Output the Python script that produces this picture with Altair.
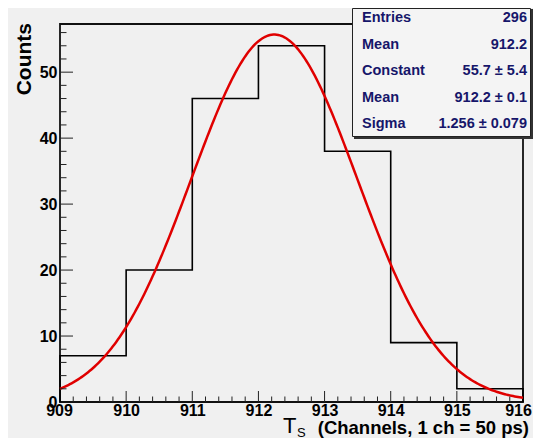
import altair as alt
import numpy as np
import pandas as pd

# ---- data ----
bin_edges = [909, 910, 911, 912, 913, 914, 915, 916]
counts = [7, 20, 46, 54, 38, 9, 2]
fit_constant = 55.7
fit_mean = 912.24
fit_sigma = 1.256
x_major = [909, 910, 911, 912, 913, 914, 915, 916]
y_major = [0, 10, 20, 30, 40, 50]
y_minor = [2, 4, 6, 8, 12, 14, 16, 18, 22, 24, 26, 28, 32, 34, 36, 38, 42, 44, 46, 48, 52, 54, 56]
stat_names = ["Entries", "Mean", "Constant", "Mean", "Sigma"]
stat_values = ["296", "912.2", "55.7 \u00b1 5.4", "912.2 \u00b1 0.1", "1.256 \u00b1 0.079"]

W, H = 463, 378
XDOM = [909, 916]
YDOM = [0, 57.3]
FONT = "Liberation Sans"
NAVY = "#16166a"

xs = alt.Scale(domain=XDOM, nice=False, zero=False)
ys = alt.Scale(domain=YDOM, nice=False, zero=False)
x_axis = alt.Axis(values=x_major, format="d", title=None, ticks=False, domain=False, grid=False,
                  labelFont=FONT, labelFontSize=16, labelFontWeight="bold", labelColor="black",
                  labelPadding=0, labelFlush=False,
                  labelOffset={"expr": "datum.value == 916 ? -5 : (datum.value == 909 ? -1 : 0)"})
y_axis = alt.Axis(values=y_major, format="d", title=None, ticks=False, domain=False, grid=False,
                  labelFont=FONT, labelFontSize=16, labelFontWeight="bold", labelColor="black",
                  labelPadding=3, labelFlush=False)

# histogram outline (steps)
hx = [bin_edges[0]] + bin_edges + [bin_edges[-1]]
hy = [0] + counts + [counts[-1], 0]
hist_df = pd.DataFrame({"x": hx, "y": hy, "i": range(len(hx))})

# fitted gaussian from the fit parameters
gx = np.linspace(XDOM[0], XDOM[1], 281)
gy = fit_constant * np.exp(-0.5 * ((gx - fit_mean) / fit_sigma) ** 2)
fit_df = pd.DataFrame({"x": gx, "y": gy})

x_minor = [round(909 + 0.2 * k, 1) for k in range(36) if k % 5 != 0]

hist = alt.Chart(hist_df).mark_line(interpolate="step-after", color="black", strokeWidth=1.6).encode(
    x=alt.X("x:Q", scale=xs, axis=x_axis),
    y=alt.Y("y:Q", scale=ys, axis=y_axis),
    order="i:Q",
)

fit = alt.Chart(fit_df).mark_line(color="#e00000", strokeWidth=2.5).encode(
    x=alt.X("x:Q", scale=xs, axis=x_axis), y=alt.Y("y:Q", scale=ys, axis=y_axis)
)

xmaj = alt.Chart(pd.DataFrame({"t": x_major[1:-1]})).mark_rule(color="#222", strokeWidth=1).encode(
    x=alt.X("t:Q", scale=xs, axis=x_axis), y=alt.value(H), y2=alt.value(H - 11))
xmin = alt.Chart(pd.DataFrame({"t": x_minor})).mark_rule(color="#222", strokeWidth=1).encode(
    x=alt.X("t:Q", scale=xs, axis=x_axis), y=alt.value(H), y2=alt.value(H - 5.5))
ymaj = alt.Chart(pd.DataFrame({"t": y_major[1:]})).mark_rule(color="#222", strokeWidth=1).encode(
    y=alt.Y("t:Q", scale=ys, axis=y_axis), x=alt.value(0), x2=alt.value(13))
ymin = alt.Chart(pd.DataFrame({"t": y_minor})).mark_rule(color="#222", strokeWidth=1).encode(
    y=alt.Y("t:Q", scale=ys, axis=y_axis), x=alt.value(0), x2=alt.value(6.5))

one = pd.DataFrame({"a": [0]})
shadow = alt.Chart(one).mark_rect(color="#333").encode(
    x=alt.value(294), x2=alt.value(473), y=alt.value(-15), y2=alt.value(115))
box = alt.Chart(one).mark_rect(fill="#f4f4f4", stroke="#222", strokeWidth=1).encode(
    x=alt.value(292.5), x2=alt.value(470.5), y=alt.value(-15.5), y2=alt.value(112.5))

stat_layers = []
for i, (nm, vl) in enumerate(zip(stat_names, stat_values)):
    yy = -6 + 26.5 * i
    stat_layers.append(alt.Chart(one).mark_text(text=nm, align="left", baseline="middle", font=FONT,
                                                fontSize=14.5, fontWeight="bold", color=NAVY).encode(
        x=alt.value(302), y=alt.value(yy)))
    stat_layers.append(alt.Chart(one).mark_text(text=vl, align="right", baseline="middle", font=FONT,
                                                fontSize=14.5, fontWeight="bold", color=NAVY).encode(
        x=alt.value(467), y=alt.value(yy)))

ytitle = alt.Chart(one).mark_text(text="Counts", angle=270, align="right", baseline="middle", font=FONT,
                                  fontSize=21, fontWeight="bold", color="black").encode(
    x=alt.value(-35), y=alt.value(-1))
t_main = alt.Chart(one).mark_text(text="T", align="left", baseline="alphabetic", font=FONT,
                                  fontSize=22, color="black").encode(x=alt.value(223), y=alt.value(409))
t_sub = alt.Chart(one).mark_text(text="S", align="left", baseline="alphabetic", font=FONT,
                                 fontSize=13, color="black").encode(x=alt.value(237), y=alt.value(413))
t_rest = alt.Chart(one).mark_text(text="(Channels, 1 ch = 50 ps)", align="right", baseline="alphabetic",
                                  font=FONT, fontSize=18.5, fontWeight="bold", color="black").encode(
    x=alt.value(469), y=alt.value(409.5))

chart = alt.layer(hist, fit, xmaj, xmin, ymaj, ymin, shadow, box, *stat_layers, ytitle, t_main, t_sub, t_rest
                  ).properties(
    width=W, height=H, background="#f0f0f0",
    padding={"left": 52, "top": 16, "right": 10, "bottom": 36},
    autosize=alt.AutoSizeParams(type="none"),
).configure_view(stroke="#111", strokeWidth=1.8, fill="#f0f0f0")

chart.save("out.html", embed_options={"renderer": "svg", "actions": False})
